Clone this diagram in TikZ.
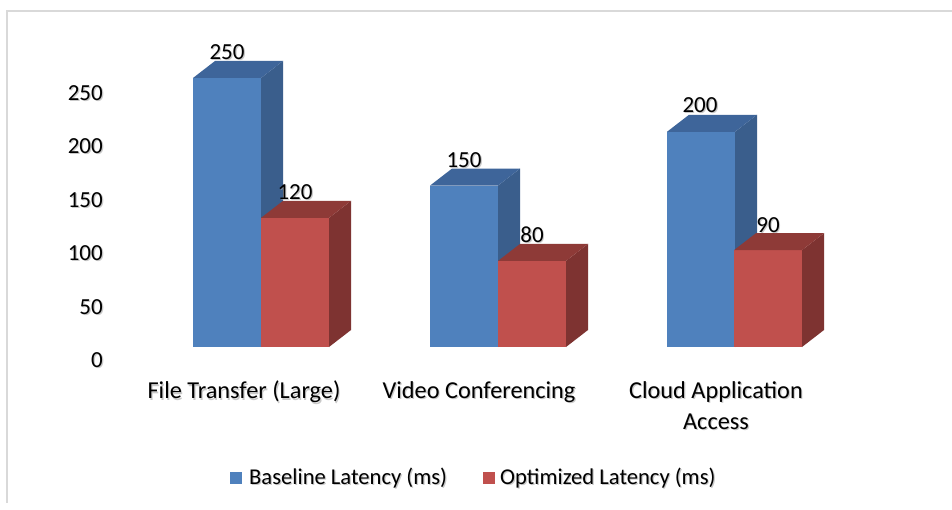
\documentclass[tikz,border=0pt]{standalone}
\usepackage{fontspec}
\setmainfont{Carlito}
\definecolor{bluefront}{HTML}{4F81BD}
\definecolor{blueside}{HTML}{3A5E8C}
\definecolor{bluetop}{HTML}{3E659A}
\definecolor{redfront}{HTML}{C0504D}
\definecolor{redside}{HTML}{7E3331}
\definecolor{redtop}{HTML}{8E3A37}
\definecolor{framegray}{HTML}{D9D9D9}
\tikzset{
  lbl/.style={font=\fontsize{23}{27}\selectfont, inner sep=0pt, text=black},
  shade lbl/.style={lbl, text=black!35, opacity=0.6},
  catfont/.style={font=\fontsize{24.3}{28}\selectfont},
  legfont/.style={font=\fontsize{22.6}{27}\selectfont},
}
% 3D bar: left x, value, front / side / top colours
\newcommand\cuboid[5]{%
  \fill[#3] (#1,347) rectangle ({#1+68},{347-1.076*#2});
  \fill[#4] ({#1+68},347) -- ++(22,-17) -- ({#1+90},{347-1.076*#2-17}) -- ({#1+68},{347-1.076*#2}) -- cycle;
  \fill[#5] (#1,{347-1.076*#2}) -- ++(22,-17) -- ++(68,0) -- ++(-22,17) -- cycle;
}
% text with a soft drop shadow
\newcommand\stext[4][]{%
  \node[shade lbl,#1] at ([shift={(1.2,1.2)}]#3) {#4};
  \node[lbl,#1] (#2) at (#3) {#4};
}
\begin{document}
\begin{tikzpicture}[x=1pt,y=-1pt]
\useasboundingbox (0,0) rectangle (952,510);
\fill[white] (0,0) rectangle (952,510);
\draw[framegray, line width=2pt] (952,11) -- (7,11) -- (7,503);

% axis values
\foreach \v/\yy in {0/360,50/307,100/253,150/200,200/146,250/93}{
  \stext[anchor=east]{ax\v}{103,\yy}{\v}
}

% bars
\cuboid{193}{250}{bluefront}{blueside}{bluetop}
\cuboid{261}{120}{redfront}{redside}{redtop}
\cuboid{430}{150}{bluefront}{blueside}{bluetop}
\cuboid{498}{80}{redfront}{redside}{redtop}
\cuboid{667}{200}{bluefront}{blueside}{bluetop}
\cuboid{734}{90}{redfront}{redside}{redtop}

% value labels
\stext{v1}{227,52}{250}
\stext{v2}{295,192}{120}
\stext{v3}{464,160}{150}
\stext{v4}{532,235}{80}
\stext{v5}{700,105}{200}
\stext{v6}{768,225}{90}

% categories
\stext[catfont]{c1}{244,392}{File Transfer (Large)}
\stext[catfont]{c2}{479,392}{Video Conferencing}
\stext[catfont]{c3}{716,392}{Cloud Application}
\stext[catfont]{c4}{716,422}{Access}

% legend
\fill[bluefront] (230,472) rectangle (242,484);
\stext[anchor=west,legfont]{l1}{249,478}{Baseline Latency (ms)}
\fill[redfront] (483,472) rectangle (495,484);
\stext[anchor=west,legfont]{l2}{500,478}{Optimized Latency (ms)}
\end{tikzpicture}
\end{document}
